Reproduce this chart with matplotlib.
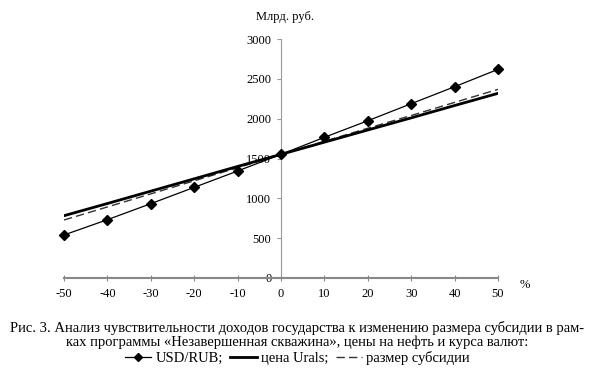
import numpy as np
import matplotlib.pyplot as plt

# Data
x_pct    = [-50, -40, -30, -20, -10, 0, 10, 20, 30, 40, 50]
usd_rub  = [540, 732, 933, 1138, 1343, 1552, 1766, 1974, 2188, 2401, 2619]
urals    = [782, 935, 1090, 1245, 1400, 1552, 1705, 1858, 2010, 2165, 2318]
subsidy  = [728, 892, 1056, 1220, 1384, 1552, 1716, 1880, 2040, 2204, 2368]
y_ticks  = [0, 500, 1000, 1500, 2000, 2500, 3000]

plt.rcParams['font.family'] = ['Liberation Serif', 'DejaVu Serif']
plt.rcParams['axes.unicode_minus'] = False

fig = plt.figure(figsize=(5.95, 3.73), dpi=100)
ax = fig.add_axes([64/595, 1 - 278/373, 434/595, 239/373])

l1, = ax.plot(x_pct, usd_rub, color='black', lw=0.9, marker='D', ms=5, zorder=4, clip_on=False)
l2, = ax.plot(x_pct, urals, color='black', lw=2.0, zorder=3)
l3, = ax.plot(x_pct, subsidy, color='#333333', lw=1.0, ls=(0, (6, 3)), zorder=2)

ax.set_xlim(-50, 50)
ax.set_ylim(0, 3000)
ax.set_xticks(x_pct)
ax.set_yticks(y_ticks)

ax.spines['top'].set_visible(False)
ax.spines['right'].set_visible(False)
ax.spines['left'].set_position(('data', 0))
ax.spines['left'].set_color('#999999')
ax.spines['left'].set_linewidth(0.8)
ax.spines['bottom'].set_color('#888888')
ax.spines['bottom'].set_linewidth(1.5)
ax.tick_params(axis='y', direction='out', length=3, color='#999999', labelsize=9, pad=4)
ax.tick_params(axis='x', direction='inout', length=4, color='#888888', labelsize=9, pad=5)

fig.text(285/595, 1 - 17/373, 'Млрд. руб.', ha='center', va='center', fontsize=9)
fig.text(525/595, 1 - 285/373, '%', ha='center', va='center', fontsize=9)

# Caption
cap = ('Рис. 3. Анализ чувствительности доходов государства к изменению размера субсидии в рам-\n'
       'ках программы «Незавершенная скважина», цены на нефть и курса валют:')
fig.text(0.5, 1 - 335/373, cap, ha='center', va='center', fontsize=10.5, linespacing=1.1)

fig.legend([l1, l2, l3], ['USD/RUB;', 'цена Urals;', 'размер субсидии'],
           loc='center', bbox_to_anchor=(0.5, 1 - 358/373), ncol=3, frameon=False,
           fontsize=10.5, handlelength=1.8, handletextpad=0.3, columnspacing=0.5,
           markerscale=0.8, borderpad=0, borderaxespad=0)

fig.savefig('out.png', dpi=100)
